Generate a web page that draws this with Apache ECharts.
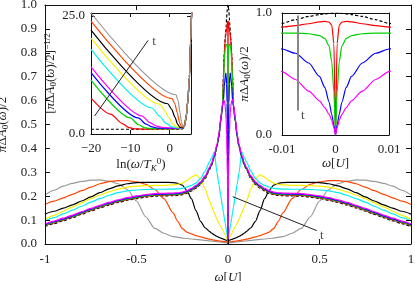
<!DOCTYPE html>
<html><head><meta charset="utf-8">
<script src="https://cdn.jsdelivr.net/npm/echarts@6/dist/echarts.min.js"></script>
<style>html,body{margin:0;padding:0;background:#fff}#c{width:415px;height:281px}</style>
</head><body><div id="c"></div>
<script>
// ---------- main panel: omega >= 0 (spectrum is symmetric) ----------
const W = [0, 0.0003, 0.0007, 0.0012, 0.002, 0.003, 0.005, 0.0075, 0.01, 0.0125, 0.015, 0.02, 0.025, 0.03, 0.04, 0.05, 0.06, 0.075, 0.09, 0.1, 0.125, 0.15, 0.175, 0.2, 0.225, 0.25, 0.275, 0.3, 0.35, 0.4, 0.45, 0.5, 0.55, 0.6, 0.65, 0.7, 0.75, 0.8, 0.85, 0.9, 0.95, 1.0];
const aDash    = [1.0, 1.0, 0.999, 0.997, 0.993, 0.987, 0.972, 0.945, 0.915, 0.89, 0.86, 0.80, 0.70, 0.58, 0.512, 0.447, 0.407, 0.362, 0.328, 0.312, 0.274, 0.249, 0.234, 0.222, 0.212, 0.206, 0.203, 0.202, 0.201, 0.200, 0.196, 0.190, 0.183, 0.174, 0.163, 0.151, 0.138, 0.124, 0.110, 0.097, 0.085, 0.073];
const aRed     = [0, 0.75, 0.9, 0.925, 0.932, 0.928, 0.912, 0.897, 0.885, 0.873, 0.86, 0.80, 0.70, 0.58, 0.515, 0.45, 0.41, 0.365, 0.331, 0.315, 0.277, 0.252, 0.237, 0.225, 0.215, 0.209, 0.206, 0.205, 0.204, 0.203, 0.199, 0.193, 0.186, 0.177, 0.166, 0.154, 0.141, 0.127, 0.113, 0.100, 0.088, 0.076];
const aGreen   = [0, 0.35, 0.6, 0.73, 0.79, 0.815, 0.83, 0.835, 0.835, 0.83, 0.82, 0.77, 0.68, 0.575, 0.515, 0.45, 0.41, 0.366, 0.332, 0.316, 0.279, 0.254, 0.239, 0.227, 0.217, 0.211, 0.208, 0.207, 0.206, 0.205, 0.201, 0.195, 0.188, 0.179, 0.168, 0.156, 0.143, 0.129, 0.115, 0.102, 0.090, 0.078];
const aBlue    = [0, 0.08, 0.17, 0.27, 0.39, 0.48, 0.59, 0.67, 0.705, 0.715, 0.70, 0.66, 0.60, 0.575, 0.518, 0.452, 0.412, 0.368, 0.334, 0.318, 0.282, 0.257, 0.242, 0.230, 0.220, 0.214, 0.211, 0.210, 0.209, 0.208, 0.204, 0.198, 0.191, 0.182, 0.171, 0.159, 0.146, 0.132, 0.118, 0.105, 0.093, 0.081];
const aMagenta = [0, 0.06, 0.12, 0.17, 0.225, 0.28, 0.36, 0.455, 0.52, 0.55, 0.575, 0.60, 0.605, 0.585, 0.525, 0.46, 0.418, 0.372, 0.338, 0.322, 0.285, 0.26, 0.245, 0.233, 0.223, 0.217, 0.214, 0.213, 0.212, 0.211, 0.207, 0.201, 0.194, 0.185, 0.174, 0.162, 0.149, 0.135, 0.121, 0.108, 0.096, 0.084];
const aCyan    = [0.015, 0.016, 0.018, 0.021, 0.024, 0.029, 0.038, 0.05, 0.062, 0.074, 0.085, 0.108, 0.132, 0.156, 0.203, 0.25, 0.298, 0.386, 0.36, 0.345, 0.305, 0.275, 0.255, 0.245, 0.238, 0.233, 0.231, 0.23, 0.229, 0.229, 0.228, 0.226, 0.222, 0.215, 0.204, 0.19, 0.175, 0.158, 0.142, 0.126, 0.11, 0.096];
const aYellow  = [0.017, 0.017, 0.017, 0.018, 0.018, 0.019, 0.022, 0.026, 0.03, 0.034, 0.038, 0.045, 0.052, 0.06, 0.074, 0.088, 0.103, 0.13, 0.158, 0.178, 0.23, 0.272, 0.289, 0.28, 0.265, 0.255, 0.25, 0.247, 0.245, 0.245, 0.244, 0.242, 0.238, 0.23, 0.218, 0.205, 0.19, 0.172, 0.155, 0.137, 0.12, 0.103];
const aBlack   = [0.014, 0.014, 0.014, 0.014, 0.015, 0.015, 0.015, 0.016, 0.016, 0.017, 0.017, 0.019, 0.02, 0.022, 0.025, 0.028, 0.032, 0.038, 0.046, 0.052, 0.068, 0.095, 0.14, 0.19, 0.225, 0.246, 0.254, 0.257, 0.258, 0.258, 0.258, 0.257, 0.252, 0.243, 0.231, 0.215, 0.197, 0.18, 0.164, 0.15, 0.137, 0.125];
const aOrange  = [0.008, 0.008, 0.008, 0.008, 0.008, 0.008, 0.009, 0.009, 0.009, 0.009, 0.01, 0.01, 0.011, 0.011, 0.012, 0.013, 0.014, 0.016, 0.018, 0.02, 0.025, 0.03, 0.035, 0.042, 0.05, 0.065, 0.095, 0.13, 0.19, 0.228, 0.25, 0.26, 0.265, 0.265, 0.261, 0.252, 0.238, 0.223, 0.208, 0.193, 0.179, 0.165];
const aGray    = [0.004, 0.004, 0.004, 0.004, 0.004, 0.004, 0.005, 0.005, 0.005, 0.005, 0.005, 0.006, 0.006, 0.007, 0.008, 0.009, 0.01, 0.011, 0.012, 0.013, 0.015, 0.017, 0.019, 0.021, 0.023, 0.025, 0.028, 0.031, 0.045, 0.065, 0.114, 0.18, 0.228, 0.252, 0.263, 0.268, 0.267, 0.262, 0.254, 0.242, 0.225, 0.205];

// ---------- inset 1: [ln(w/TK), (pi dA/2)^(-1/2)] ----------
const lnDash    = [[-20,1.0],[2,1.0],[3.3,1.1],[3.8,1.8],[4.2,3.8],[4.6,7.0],[5.0,12.0],[5.3,19.5],[5.6,27]];
const lnRed     = [[-20,7.6],[-15,4.2],[-12,2.2],[-10.5,1.4],[-9,1.1],[-7,1.04],[3.3,1.15],[3.8,1.8],[4.2,3.8],[4.6,7.0],[5.0,12.0],[5.3,19.5],[5.6,27]];
const lnGreen   = [[-20,11.4],[-10,3.4],[-8,2.0],[-6.5,1.35],[-5,1.15],[0,1.1],[3.3,1.2],[3.8,1.8],[4.2,3.8],[4.6,7.0],[5.0,12.0],[5.3,19.5],[5.6,27]];
const lnBlue    = [[-20,13.0],[-8,3.4],[-6,2.1],[-4.5,1.5],[-3,1.25],[0,1.2],[3.3,1.25],[3.8,1.8],[4.2,3.8],[4.6,7.0],[5.0,12.0],[5.3,19.5],[5.6,27]];
const lnMagenta = [[-20,14.2],[-7,3.8],[-5,2.4],[-3.5,1.7],[-2,1.4],[0,1.3],[3.3,1.3],[3.8,1.8],[4.2,3.8],[4.6,7.0],[5.0,12.0],[5.3,19.5],[5.6,27]];
const lnCyan    = [[-20,17.9],[-4.5,5.5],[-2.5,3.7],[-1,2.3],[0.5,1.5],[2,1.3],[3.2,1.3],[3.7,1.7],[4.2,3.8],[4.6,7.0],[5.0,12.0],[5.3,19.5],[5.6,27]];
const lnYellow  = [[-20,20.3],[-2.5,6.3],[-1.2,4.9],[-0.2,3.4],[0.8,2.1],[1.8,1.5],[2.8,1.35],[3.6,1.7],[4.2,3.8],[4.6,7.0],[5.0,12.0],[5.3,19.5],[5.6,27]];
const lnBlack   = [[-20,22.0],[-0.5,6.4],[0.5,5.2],[1.3,3.6],[2.0,2.1],[2.6,1.4],[3.2,1.35],[3.7,1.8],[4.2,3.8],[4.6,7.0],[5.0,12.0],[5.3,19.5],[5.6,27]];
const lnOrange  = [[-20,23.9],[0.6,7.5],[1.3,6.4],[1.9,4.5],[2.5,2.4],[3.0,1.5],[3.4,1.45],[3.8,1.9],[4.2,3.8],[4.6,7.0],[5.0,12.0],[5.3,19.5],[5.6,27]];
const lnGray    = [[-20,25.6],[1.6,8.3],[2.1,7.1],[2.6,4.6],[3.0,2.4],[3.4,1.6],[3.8,1.9],[4.2,3.8],[4.6,7.0],[5.0,12.0],[5.3,19.5],[5.6,27]];

// tick labels
const mainYTicks = [0,0.1,0.2,0.3,0.4,0.5,0.6,0.7,0.8,0.9,1.0];
const in1YTicks = [0, 25];
const in1XTicks = [-20, -10, 0];

// arrows ("t" = time direction)
const arrowMain = [[0.026,0.198],[0.485,0.056]]; const tMain = [0.513,0.036];
const arrowIn1  = [[-19.1,3.8],[-5.5,19.8]];     const tIn1  = [-4.0,19.6];
const arrowIn2  = [[-0.0071,0.98],[-0.0071,0.2]]; const tIn2 = [-0.0061,0.16];

const COL = {dash:'#000', red:'#ff0000', green:'#00d000', blue:'#0000ff', magenta:'#ff00ff',
  cyan:'#00f0f0', yellow:'#f5f000', black:'#000000', orange:'#ff4500', gray:'#999999'};

function mirror(vals){ const out=[]; for(let i=W.length-1;i>0;i--) out.push([-W[i], vals[i]]); for(let i=0;i<W.length;i++) out.push([W[i], vals[i]]); return out; }

const FF = 'Liberation Serif';
const TXT = '#222';
const rich = {
  i:{fontFamily:FF,fontStyle:'italic',fontSize:13,color:TXT},
  n:{fontFamily:FF,fontSize:13,color:TXT},
  s:{fontFamily:FF,fontSize:9,color:TXT,padding:[6,0,0,0]},
  si:{fontFamily:FF,fontStyle:'italic',fontSize:9,color:TXT,padding:[7,0,0,0]},
  p:{fontFamily:FF,fontSize:9,color:TXT,padding:[0,0,7,0]}
};
const nameStyle = {fontFamily:FF,fontSize:13,color:TXT,rich:rich};
const lab = {fontFamily:FF,fontSize:13,color:TXT};

function xAx(grid, min, max, interval, extra){ return Object.assign({type:'value', gridIndex:grid, min:min, max:max, interval:interval,
  axisLine:{show:true,onZero:false,lineStyle:{color:'#111',width:1}}, axisTick:{show:true,inside:true,length:4,lineStyle:{color:'#111'}},
  splitLine:{show:false}, axisLabel:{show:false}}, extra||{}); }

const mainOrder = [['dash',aDash],['gray',aGray],['orange',aOrange],['black',aBlack],['yellow',aYellow],['cyan',aCyan],['red',aRed],['green',aGreen],['blue',aBlue],['magenta',aMagenta]];
const in2Order = [['dash',aDash],['red',aRed],['green',aGreen],['blue',aBlue],['magenta',aMagenta]];
const in1Order = [['dash',lnDash],['red',lnRed],['green',lnGreen],['blue',lnBlue],['magenta',lnMagenta],['cyan',lnCyan],['yellow',lnYellow],['black',lnBlack],['orange',lnOrange],['gray',lnGray]];

const series = [];
mainOrder.forEach(([k,v])=>series.push({type:'line', xAxisIndex:0, yAxisIndex:0, data:mirror(v), showSymbol:false, symbol:'none', smooth:0.25, smoothMonotone:'x', z:2,
  lineStyle:{color:COL[k], width:1.2, type:k==='dash'?[3,2]:'solid'}, silent:true}));
in1Order.forEach(([k,v])=>series.push({type:'line', xAxisIndex:2, yAxisIndex:2, data:v, showSymbol:false, symbol:'none', smooth:0.25, smoothMonotone:'x', z:12,
  lineStyle:{color:COL[k], width:1.2, type:k==='dash'?[3,2]:'solid'}, silent:true}));
in2Order.forEach(([k,v])=>series.push({type:'line', xAxisIndex:4, yAxisIndex:4, data:mirror(v).filter(p=>Math.abs(p[0])<=0.02), showSymbol:false, symbol:'none', smooth:0.25, smoothMonotone:'x', z:12,
  lineStyle:{color:COL[k], width:1.2, type:k==='dash'?[3,2]:'solid'}, silent:true}));

function arrow(xi, yi, pts, color, width, size, z){
  return {type:'line', xAxisIndex:xi, yAxisIndex:yi, data:[], z:z, silent:true,
    markLine:{silent:true, animation:false, symbol:['none','arrow'], symbolSize:[0,size], label:{show:false}, z:z,
      lineStyle:{color:color, width:width, type:'solid'}, data:[[{coord:pts[0]},{coord:pts[1]}]]}};
}
function tlab(xi, yi, p, z){
  return {type:'scatter', xAxisIndex:xi, yAxisIndex:yi, data:[p], symbolSize:1, itemStyle:{color:'rgba(0,0,0,0)'}, z:z, silent:true,
    label:{show:true, position:'inside', formatter:'t', fontFamily:FF, fontSize:13, color:TXT}};
}
series.push(arrow(0,0,arrowMain,'#222',1,7,5), tlab(0,0,tMain,5));
series.push(arrow(2,2,arrowIn1,'#222',1,7,14), tlab(2,2,tIn1,14));
series.push(arrow(4,4,arrowIn2,'#888',2,9,14), tlab(4,4,tIn2,14));

const G = {containLabel:false, outerBoundsMode:'none'};
const option = {
  animation:false,
  backgroundColor:'#fff',
  grid:[
    {left:45, right:4, top:5, bottom:37, show:false, ...G},
    {left:91, top:13, width:100, height:121, show:true, backgroundColor:'#fff', borderWidth:0, z:10, ...G},
    {left:282, top:13, width:107, height:122, show:true, backgroundColor:'#fff', borderWidth:0, z:10, ...G}
  ],
  xAxis:[
    xAx(0,-1,1,0.5,{z:3, axisTick:{show:true,inside:true,length:5,lineStyle:{color:'#111'}},
      axisLabel:{show:true, margin:9, ...lab},
      name:'{i|ω}[{i|U}]', nameLocation:'middle', nameGap:19, nameTextStyle:nameStyle}),
    xAx(0,-1,1,0.5,{z:3, position:'top', axisTick:{show:true,inside:true,length:5,lineStyle:{color:'#111'}}}),
    xAx(1,-20,5.4,10,{z:11, axisLabel:{show:true, margin:8, ...lab, formatter:v=>in1XTicks.includes(v)?(v<0?'\u2212'+Math.abs(v):String(v)):''},
      name:'ln({i|ω}/{i|T}{si|K}{p|0})', nameLocation:'middle', nameGap:23, nameTextStyle:nameStyle}),
    xAx(1,-20,5.4,10,{z:11, position:'top'}),
    xAx(2,-0.01,0.01,0.01,{z:11, axisLabel:{show:true, margin:8, ...lab},
      name:'{i|ω}[{i|U}]', nameLocation:'middle', nameGap:22, nameTextStyle:nameStyle}),
    xAx(2,-0.01,0.01,0.01,{z:11, position:'top'})
  ],
  yAxis:[
    xAx(0,0,1,0.1,{z:3, axisTick:{show:true,inside:true,length:5,lineStyle:{color:'#111'}},
      axisLabel:{show:true, margin:8, ...lab, formatter:v=>mainYTicks.includes(Math.round(v*10)/10)?v.toFixed(1):''},
      name:'{i|π}Δ{i|A}{s|0}({i|ω})/2', nameLocation:'middle', nameRotate:90, nameGap:28, nameTextStyle:nameStyle}),
    xAx(0,0,1,0.1,{z:3, position:'right', axisTick:{show:true,inside:true,length:5,lineStyle:{color:'#111'}}}),
    xAx(1,0,25.6,25,{z:11, axisLabel:{show:true, margin:6, ...lab, formatter:v=>in1YTicks.includes(v)?v.toFixed(1):''},
      name:'[{i|π}Δ{i|A}{s|0}({i|ω})/2]{p|−1/2}', nameLocation:'middle', nameRotate:90, nameGap:27, nameTextStyle:nameStyle}),
    xAx(1,0,25.6,25,{z:11, position:'right'}),
    xAx(2,0,1,1,{z:11, axisLabel:{show:true, margin:10, ...lab, formatter:v=>v.toFixed(1)},
      name:'{i|π}Δ{i|A}{s|0}({i|ω})/2', nameLocation:'middle', nameRotate:90, nameGap:13, nameTextStyle:nameStyle}),
    xAx(2,0,1,1,{z:11, position:'right'})
  ],
  series:series
};
const chart = echarts.init(document.getElementById('c'), null, {renderer:'canvas'});
chart.setOption(option);
</script></body></html>
